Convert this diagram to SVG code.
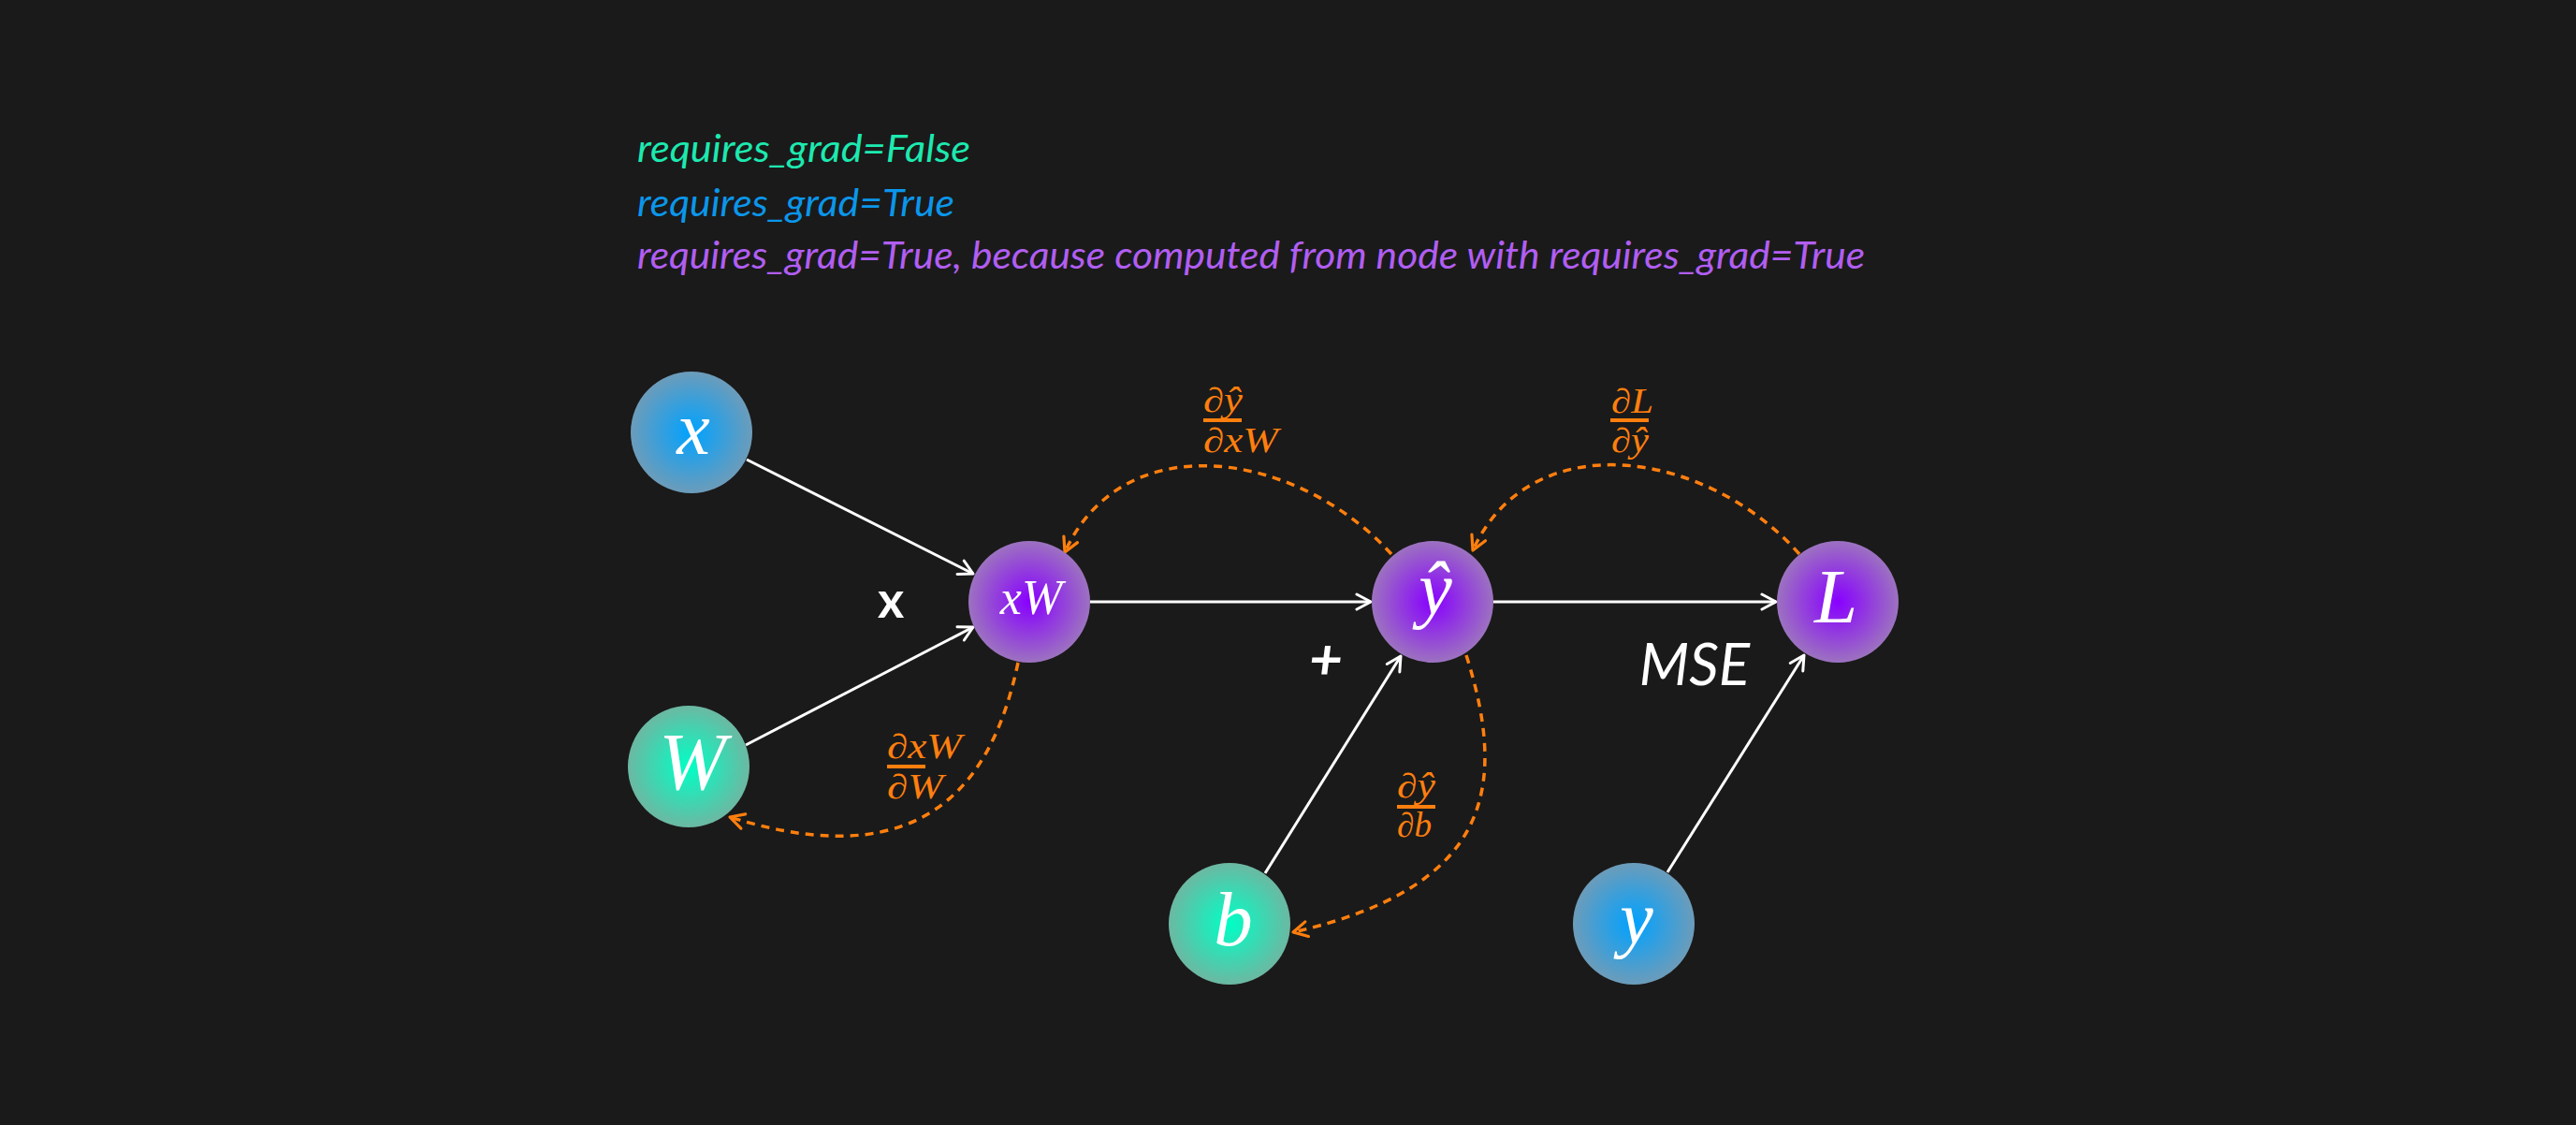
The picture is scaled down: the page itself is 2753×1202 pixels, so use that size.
<svg xmlns="http://www.w3.org/2000/svg" width="2753" height="1202" viewBox="0 0 2753 1202">
<defs>
<radialGradient id="gBlue" cx="50%" cy="50%" r="50%">
<stop offset="0%" stop-color="#00a2ff"/>
<stop offset="100%" stop-color="#6c9cba"/>
</radialGradient>
<radialGradient id="gGreen" cx="50%" cy="50%" r="50%">
<stop offset="0%" stop-color="#00ffc6"/>
<stop offset="100%" stop-color="#6cb8a2"/>
</radialGradient>
<radialGradient id="gPurple" cx="50%" cy="50%" r="50%">
<stop offset="0%" stop-color="#8800ff"/>
<stop offset="100%" stop-color="#9c72c0"/>
</radialGradient>
<marker id="aw" viewBox="0 0 20 20" refX="18" refY="10" markerWidth="20" markerHeight="20" markerUnits="userSpaceOnUse" orient="auto">
<path d="M3,2 L18,10 L3,18" fill="none" stroke="#ffffff" stroke-width="3" stroke-linecap="round" stroke-linejoin="round"/>
</marker>
<marker id="ao" viewBox="0 0 20 20" refX="18" refY="10" markerWidth="20" markerHeight="20" markerUnits="userSpaceOnUse" orient="auto">
<path d="M3,2 L18,10 L3,18" fill="none" stroke="#ff7f0e" stroke-width="3.2" stroke-linecap="round" stroke-linejoin="round"/>
</marker>
</defs>
<style>
.fw{fill:none;stroke:#ffffff;stroke-width:3;marker-end:url(#aw)}
.bo{fill:none;stroke:#ff7f0e;stroke-width:3.5;stroke-dasharray:9 7;marker-end:url(#ao)}
.leg{font-family:Lato,"Open Sans",sans-serif;font-style:italic;font-size:40px}
.nl{font-family:"Liberation Serif","DejaVu Serif",serif;font-style:italic;fill:#ffffff;text-anchor:middle}
.fr{font-family:"Liberation Serif","DejaVu Serif",serif;font-style:italic;fill:#ff7f0e;font-size:37px}
.bar{fill:#ff7f0e}
.op{font-family:Lato,"Liberation Sans",sans-serif;fill:#ffffff;text-anchor:middle}
</style>
<rect width="2753" height="1202" fill="#1a1a1a"/>

<g id="legend">
<text class="leg" x="681" y="173" fill="#1de9b0" textLength="356" lengthAdjust="spacingAndGlyphs">requires_grad=False</text>
<text class="leg" x="681" y="231" fill="#0b96ea" textLength="339" lengthAdjust="spacingAndGlyphs">requires_grad=True</text>
<text class="leg" x="681" y="287" fill="#b15ef2" textLength="1312" lengthAdjust="spacingAndGlyphs">requires_grad=True, because computed from node with requires_grad=True</text>
</g>

<g id="connectors">
<path class="fw" d="M798,491 L1040,613"/>
<path class="fw" d="M797,796 L1040,670"/>
<path class="fw" d="M1165,643 L1465,643"/>
<path class="fw" d="M1596,643 L1898,643"/>
<path class="fw" d="M1352,933 L1497,701"/>
<path class="fw" d="M1782,932 L1928,700"/>
<path class="bo" d="M1487,592 C1386,481 1200,453 1138,590"/>
<path class="bo" d="M1923,592 C1824,480 1636,452 1574,588"/>
<path class="bo" d="M1088,708 C1063,826 997,941 780,873"/>
<path class="bo" d="M1567,700 C1612,842 1593,948 1382,996"/>
</g>

<g id="node-x">
<circle cx="739" cy="462" r="65" fill="url(#gBlue)"/>
<text class="nl" x="741" y="485" font-size="80">x</text>
</g>
<g id="node-W">
<circle cx="736" cy="819" r="65" fill="url(#gGreen)"/>
<text class="nl" x="740" y="843" font-size="86">W</text>
</g>
<g id="node-xW">
<circle cx="1100" cy="643" r="65" fill="url(#gPurple)"/>
<text class="nl" x="1102" y="656" font-size="52">xW</text>
</g>
<g id="node-yhat">
<circle cx="1531" cy="643" r="65" fill="url(#gPurple)"/>
<text class="nl" x="1534" y="656" font-size="80">ŷ</text>
</g>
<g id="node-L">
<circle cx="1964" cy="643" r="65" fill="url(#gPurple)"/>
<text class="nl" x="1962" y="665" font-size="83">L</text>
</g>
<g id="node-b">
<circle cx="1314" cy="987" r="65" fill="url(#gGreen)"/>
<text class="nl" x="1318" y="1010" font-size="83">b</text>
</g>
<g id="node-y">
<circle cx="1746" cy="987" r="65" fill="url(#gBlue)"/>
<text class="nl" x="1749" y="1008" font-size="80">y</text>
</g>

<g id="op-labels">
<text class="op" x="952" y="660" font-size="54" font-weight="bold">x</text>
<text class="op" x="1417" y="726" font-size="62" font-weight="bold" font-style="italic">+</text>
<text class="op" x="1811" y="732" font-size="62" font-style="italic">MSE</text>
</g>

<g id="grad-labels">
<text class="fr" x="1286" y="440" textLength="42" lengthAdjust="spacingAndGlyphs">∂ŷ</text>
<rect class="bar" x="1286" y="447" width="41" height="4"/>
<text class="fr" x="1286" y="483" textLength="80" lengthAdjust="spacingAndGlyphs">∂xW</text>

<text class="fr" x="1722" y="441" textLength="45" lengthAdjust="spacingAndGlyphs">∂L</text>
<rect class="bar" x="1721" y="447" width="41" height="4"/>
<text class="fr" x="1722" y="483" textLength="40" lengthAdjust="spacingAndGlyphs">∂ŷ</text>

<text class="fr" x="948" y="810" textLength="80" lengthAdjust="spacingAndGlyphs">∂xW</text>
<rect class="bar" x="948" y="817" width="41" height="4"/>
<text class="fr" x="948" y="853" textLength="60" lengthAdjust="spacingAndGlyphs">∂W</text>

<text class="fr" x="1493" y="852" textLength="41" lengthAdjust="spacingAndGlyphs">∂ŷ</text>
<rect class="bar" x="1493" y="860" width="41" height="4"/>
<text class="fr" x="1493" y="894" textLength="37" lengthAdjust="spacingAndGlyphs">∂b</text>
</g>
</svg>
